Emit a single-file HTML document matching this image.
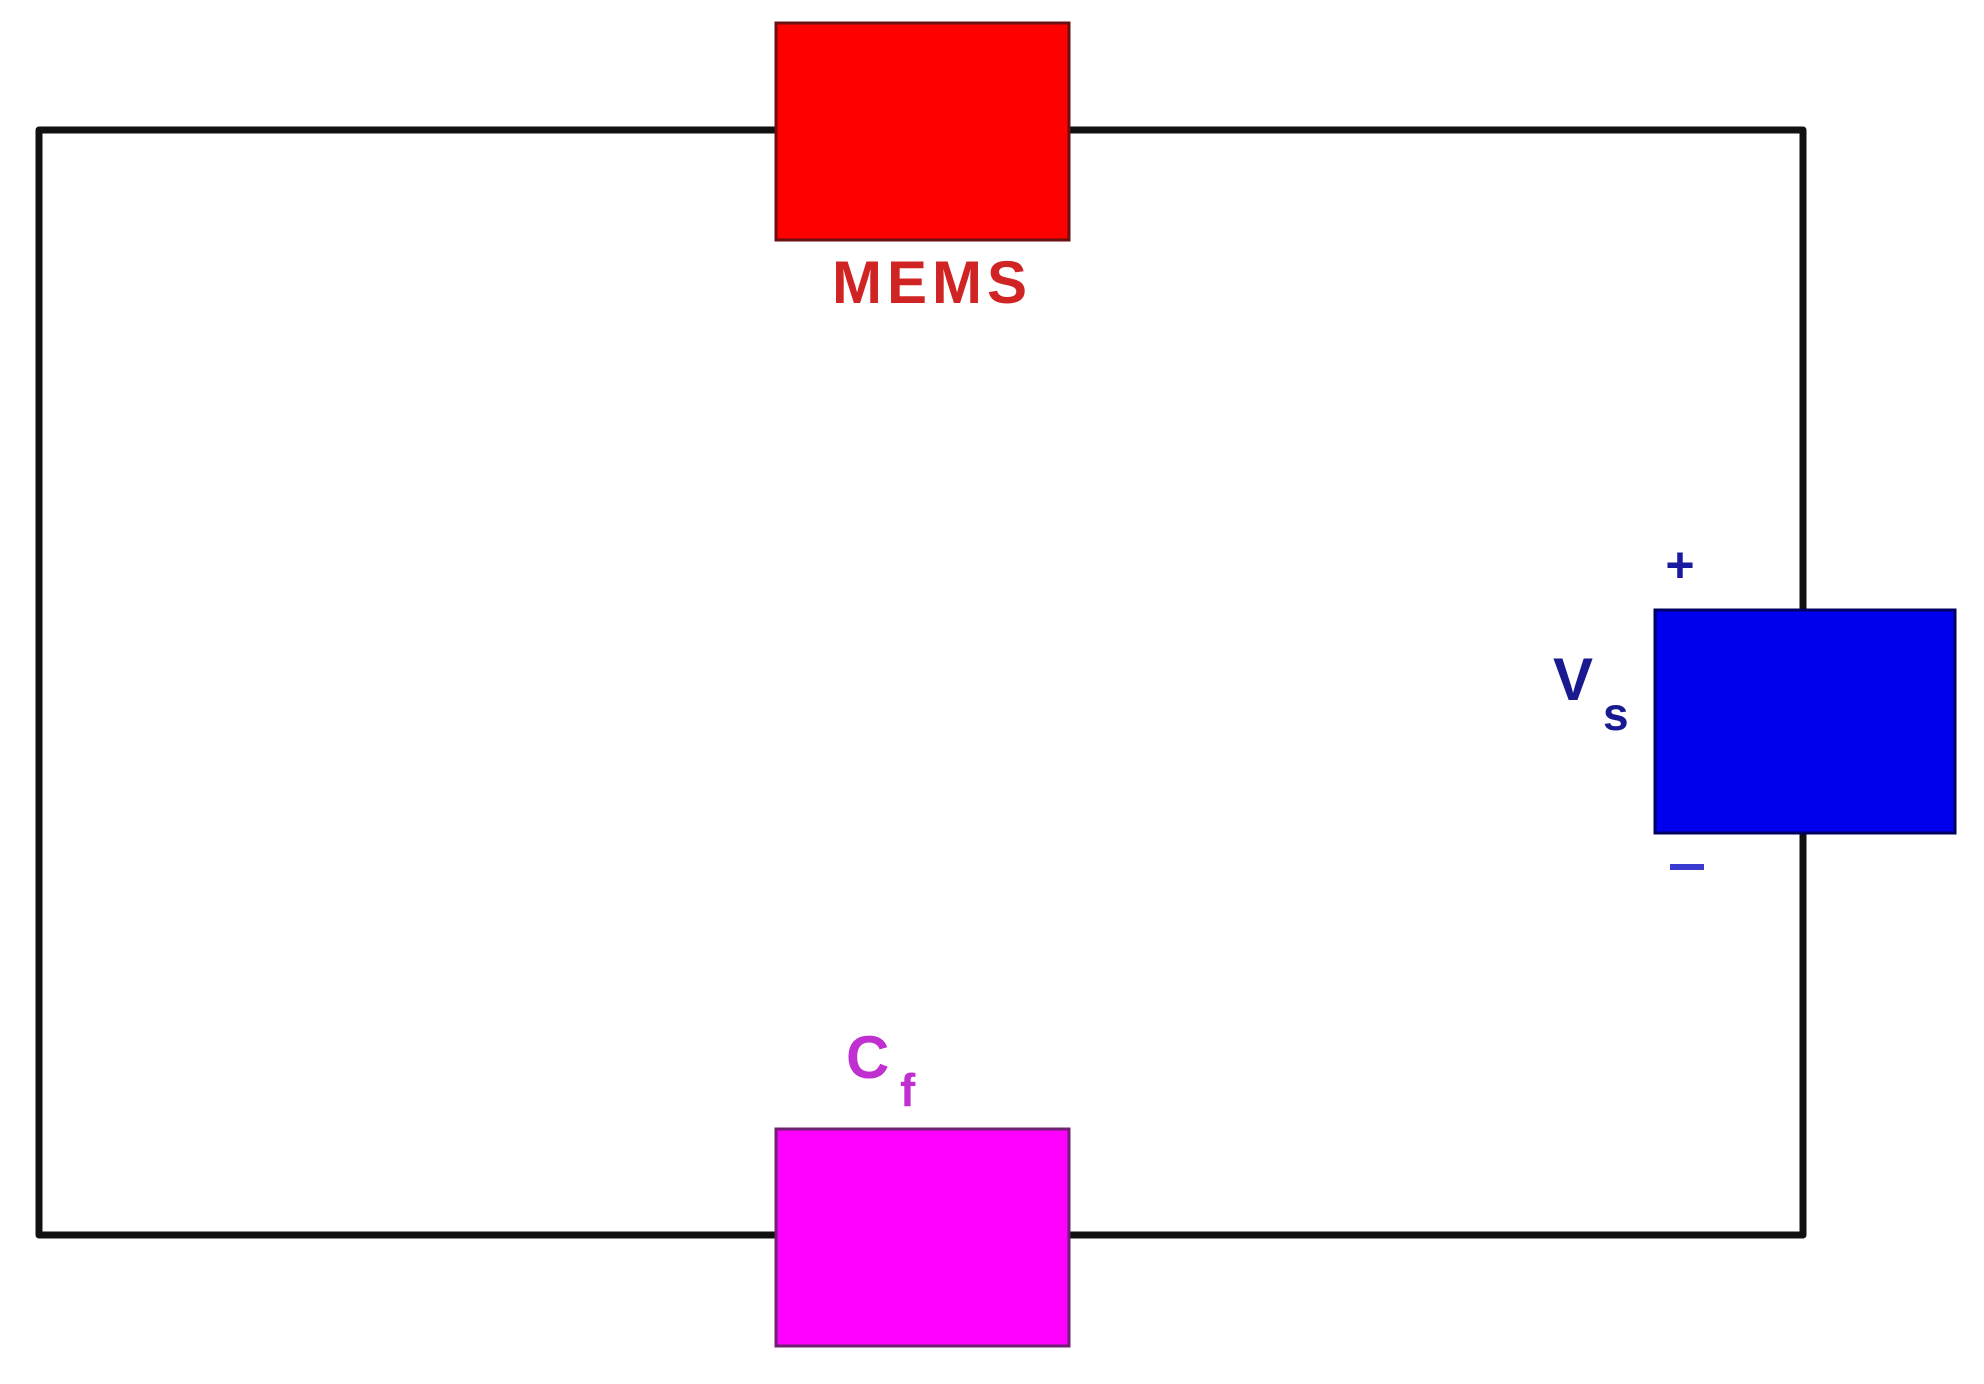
<!DOCTYPE html>
<html><head><meta charset="utf-8"><style>
html,body{margin:0;padding:0;background:#fff;}
svg{display:block;}
text{font-family:"Liberation Sans",Arial,sans-serif;font-weight:bold;}
</style></head><body>
<svg width="1984" height="1384" viewBox="0 0 1984 1384" xmlns="http://www.w3.org/2000/svg">
<rect x="0" y="0" width="1984" height="1384" fill="#fff"/>
<rect x="39" y="130" width="1764" height="1105" fill="none" stroke="#111" stroke-width="7" stroke-linejoin="round"/>
<rect x="776" y="23" width="293" height="217" fill="#ff0000" stroke="#6a1010" stroke-width="3"/>
<text x="932" y="303" font-size="60" fill="#d02424" text-anchor="middle" letter-spacing="5">MEMS</text>
<rect x="1655" y="610" width="300" height="223" fill="#0000ee" stroke="#000060" stroke-width="3"/>
<text x="1680" y="582" font-size="50" fill="#1a1aa0" text-anchor="middle">+</text>
<rect x="1670" y="864" width="34" height="6" fill="#3a3ad0"/>
<text x="1553" y="700" font-size="60" fill="#1a1a90">V</text>
<text x="1603" y="730" font-size="46" fill="#1a1a90">s</text>
<rect x="776" y="1129" width="293" height="217" fill="#ff00ff" stroke="#702070" stroke-width="3"/>
<text x="846" y="1078" font-size="60" fill="#c030d0">C</text>
<text x="900" y="1106" font-size="46" fill="#c030d0">f</text>
</svg>
</body></html>
